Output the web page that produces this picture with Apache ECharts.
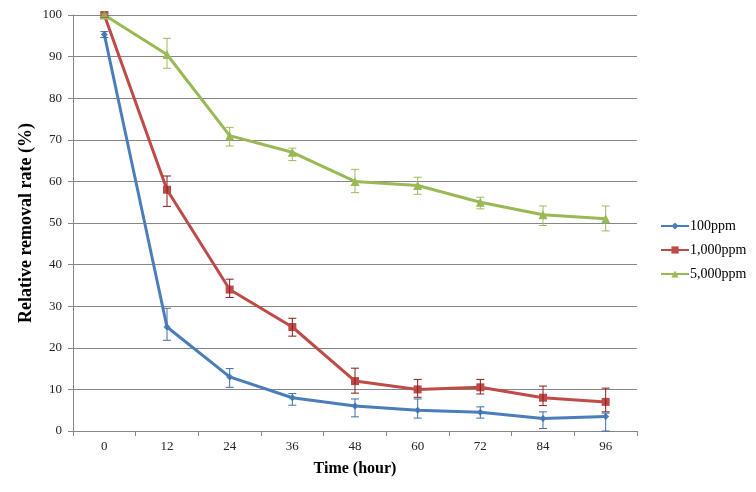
<!DOCTYPE html>
<html><head><meta charset="utf-8">
<script src="https://cdn.jsdelivr.net/npm/echarts@6/dist/echarts.min.js"></script>
<style>html,body{margin:0;padding:0;background:#fff}#c{width:756px;height:492px}</style>
</head><body><div id="c"></div>
<script>
const categories = ['0','12','24','36','48','60','72','84','96'];
const names = ['100ppm','1,000ppm','5,000ppm'];
const v100 = [95.3, 25, 13, 8, 6, 5, 4.5, 3, 3.5];
const lo100 = [94.6, 21.8, 10.5, 6.2, 3.4, 3.1, 3.1, 0.6, 0];
const hi100 = [96.0, 29.5, 15, 9, 7.7, 7.7, 5.8, 4.6, 4.3];
const v1000 = [100, 58, 34, 25, 12, 10, 10.5, 8, 7];
const lo1000 = [99.4, 54, 32.1, 22.8, 9.1, 8.1, 8.9, 6.1, 4.6];
const hi1000 = [100.4, 61.3, 36.5, 27.1, 15.1, 12.4, 12.4, 10.8, 10.3];
const v5000 = [100, 90.5, 71, 67, 60, 59, 55, 52, 51];
const lo5000 = [99.5, 87.2, 68.5, 65, 57.3, 56.9, 53.4, 49.4, 48.1];
const hi5000 = [100.3, 94.4, 73, 68, 62.9, 61, 56.2, 54.1, 54.1];

const colors = ['#4a7ebb', '#be4b48', '#98b954'];
const errColors = ['#3f6fa8', '#8b1a1a', '#9bbb59'];
const vals = [v100, v1000, v5000];
const los = [lo100, lo1000, lo5000];
const his = [hi100, hi1000, hi5000];
const symbols = ['diamond', 'rect', 'triangle'];
const symSizes = [7, 8, 9];

const font = '"Liberation Serif","Times New Roman",serif';
const chart = echarts.init(document.getElementById('c'), null, {renderer:'canvas'});
const series = [];
vals.forEach((v, i) => {
  series.push({
    name: names[i], type: 'line', data: v, z: 3,
    symbol: symbols[i], symbolSize: symSizes[i],
    lineStyle: {color: colors[i], width: 3},
    itemStyle: {color: colors[i]}
  });
});
vals.forEach((v, i) => {
  series.push({
    type: 'custom', z: 4, silent: true,
    data: categories.map((c, k) => [k, los[i][k], his[i][k]]),
    renderItem: function (params, api) {
      const x = api.value(0);
      const lo = api.coord([x, api.value(1)]);
      const hi = api.coord([x, api.value(2)]);
      const w = 4;
      const st = {stroke: errColors[i], lineWidth: 1};
      return {type: 'group', children: [
        {type: 'line', shape: {x1: lo[0], y1: lo[1], x2: hi[0], y2: hi[1]}, style: st},
        {type: 'line', shape: {x1: lo[0]-w, y1: lo[1], x2: lo[0]+w, y2: lo[1]}, style: st},
        {type: 'line', shape: {x1: hi[0]-w, y1: hi[1], x2: hi[0]+w, y2: hi[1]}, style: st}
      ]};
    }
  });
});
chart.setOption({
  animation: false,
  color: colors,
  grid: {left: 73, right: 119, top: 15, bottom: 61, containLabel: false},
  legend: {
    orient: 'vertical', left: 655, top: 214, itemGap: 10,
    itemWidth: 28, itemHeight: 9,
    data: names,
    textStyle: {fontFamily: font, fontSize: 14, color: '#000', padding: [0,0,0,-4]}
  },
  xAxis: {
    type: 'category', data: categories, boundaryGap: true,
    name: 'Time (hour)', nameLocation: 'middle', nameGap: 30, nameMoveOverlap: false,
    nameTextStyle: {fontFamily: font, fontSize: 16, fontWeight: 'bold', color: '#000'},
    axisLine: {show: true, lineStyle: {color: '#868686', width: 1}},
    axisTick: {show: true, length: 5, lineStyle: {color: '#868686'}},
    axisLabel: {fontFamily: font, fontSize: 13, color: '#222', margin: 9},
    splitLine: {show: false}
  },
  yAxis: {
    type: 'value', min: 0, max: 100, interval: 10,
    name: 'Relative removal rate (%)', nameLocation: 'middle', nameGap: 38, nameMoveOverlap: false,
    nameTextStyle: {fontFamily: font, fontSize: 18, fontWeight: 'bold', color: '#000'},
    axisLine: {show: true, lineStyle: {color: '#868686', width: 1}},
    axisTick: {show: true, length: 5, lineStyle: {color: '#868686'}},
    axisLabel: {fontFamily: font, fontSize: 13, color: '#222', margin: 11},
    splitLine: {show: true, lineStyle: {color: '#868686', width: 1}}
  },
  series: series
});
</script></body></html>
